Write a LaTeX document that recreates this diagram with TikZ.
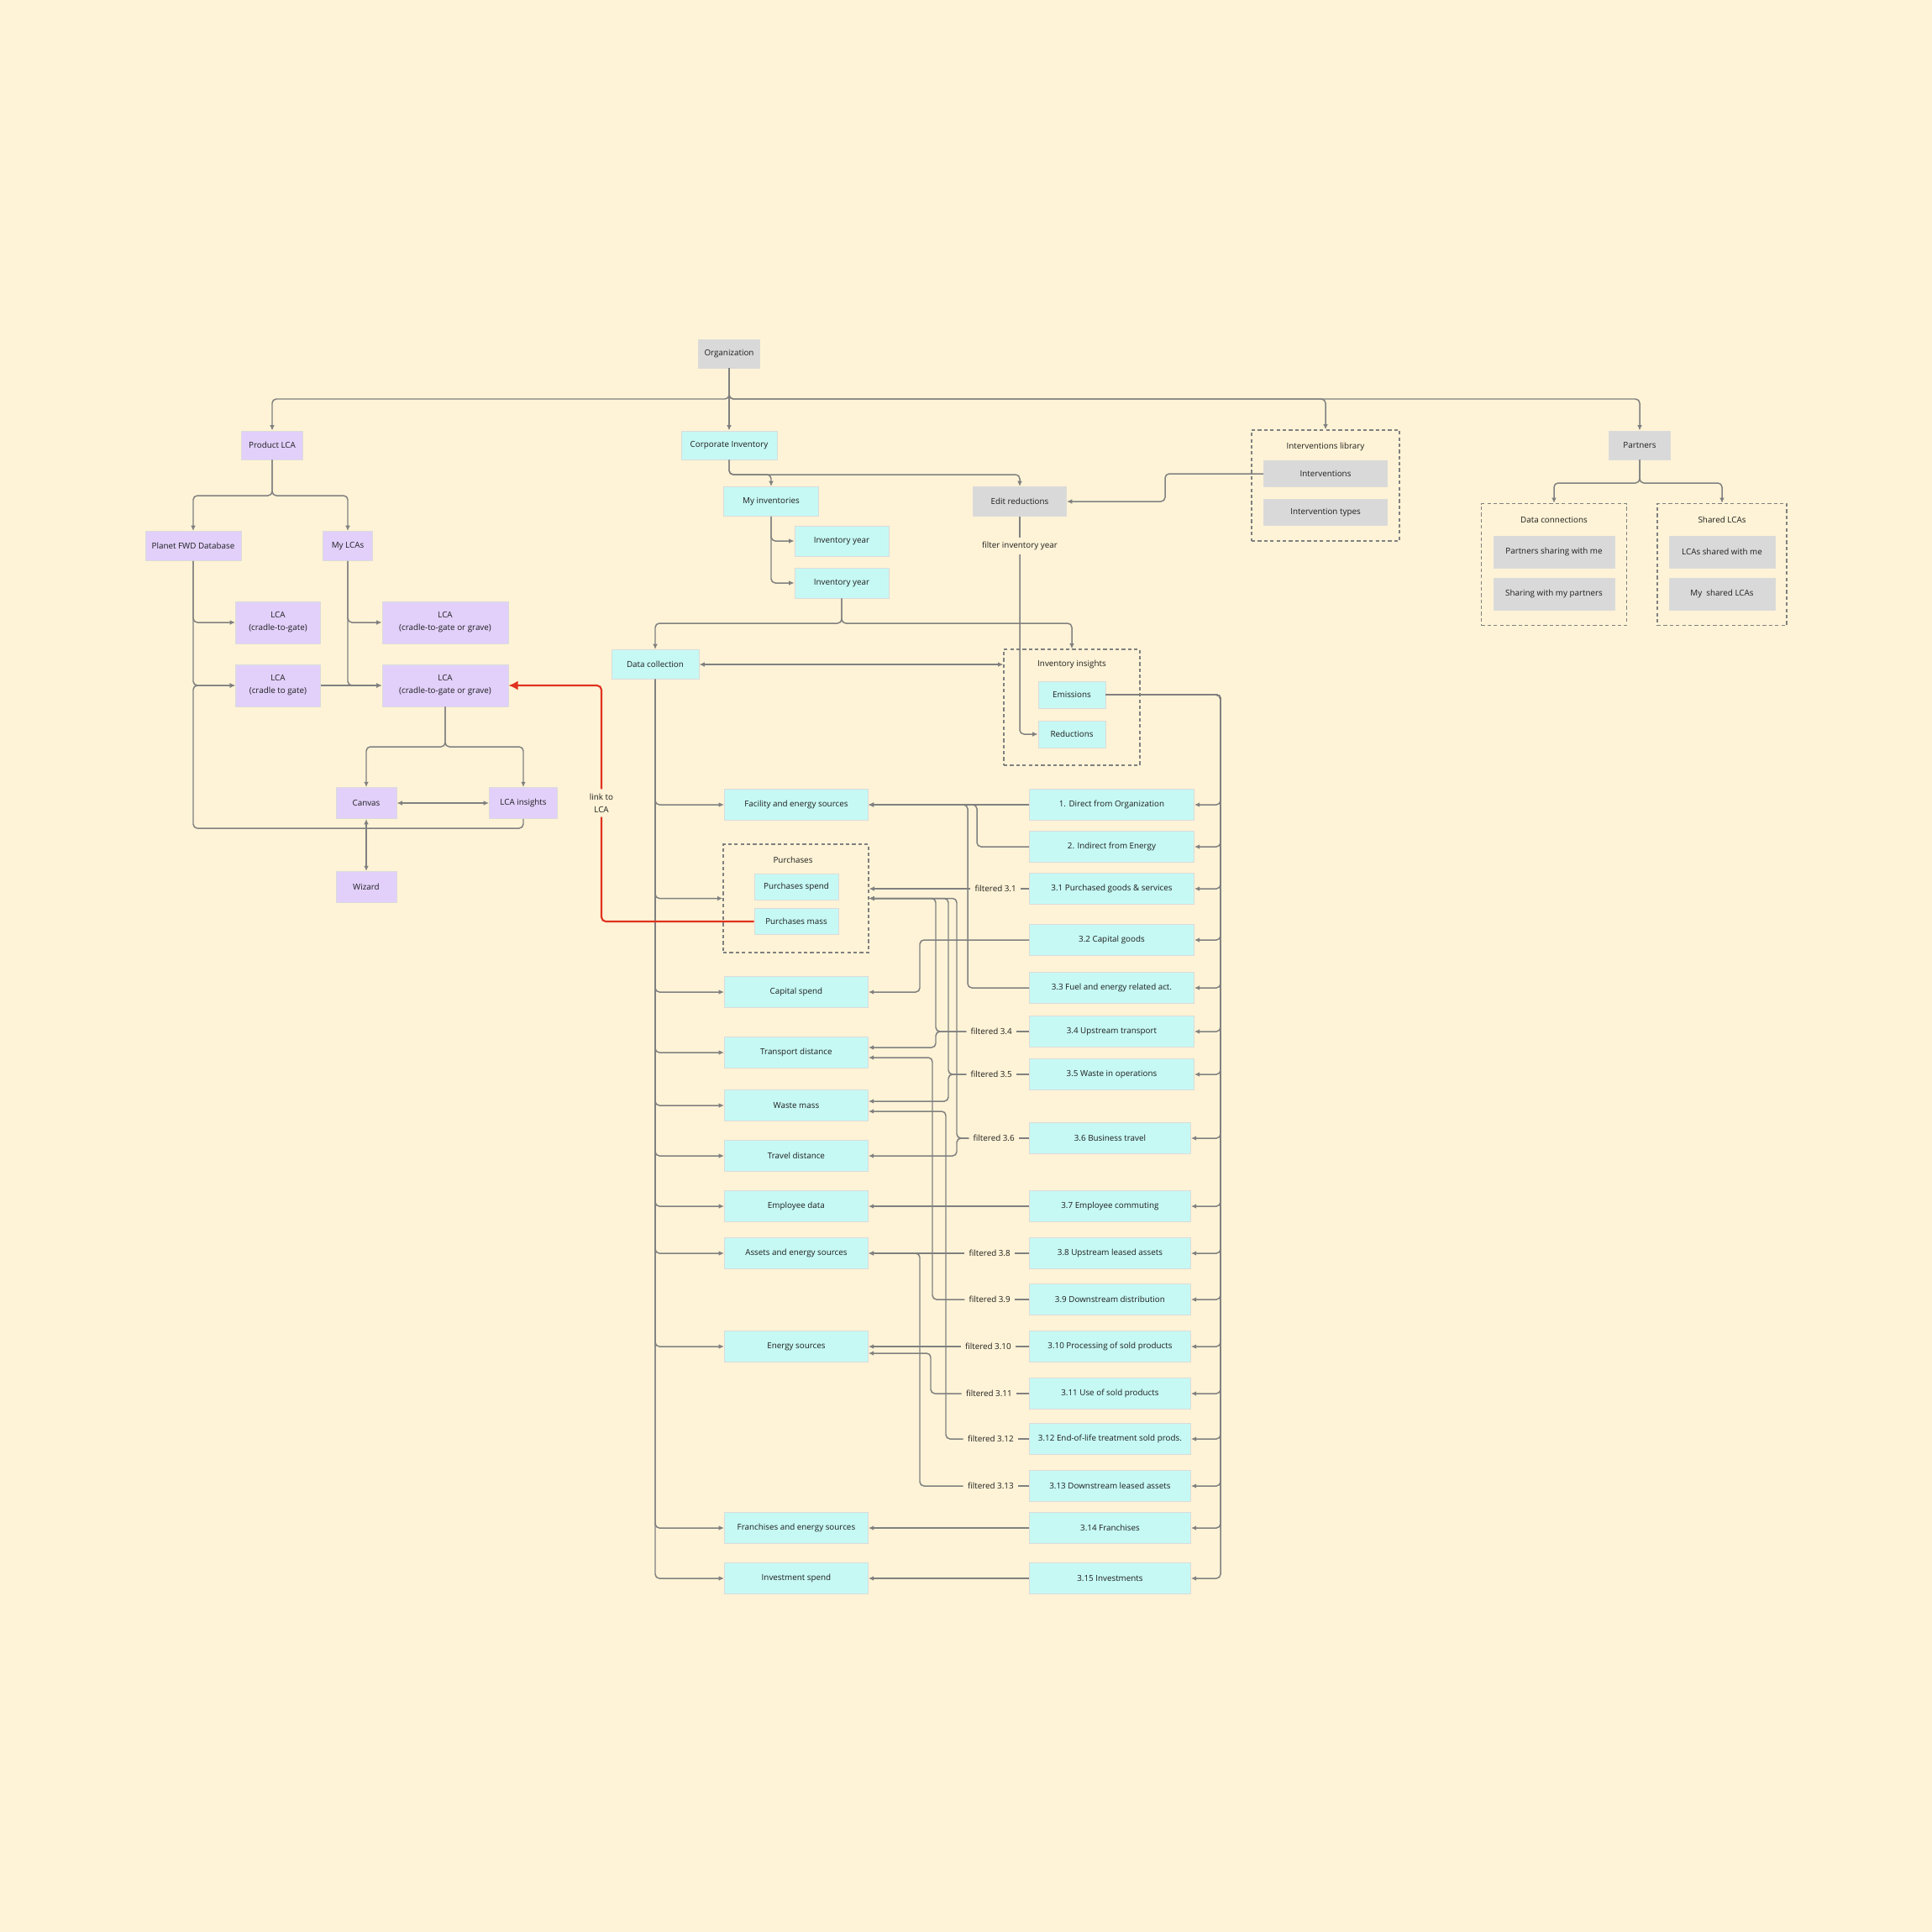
\documentclass[tikz,border=0pt]{standalone}
\usepackage{fontspec}
\setmainfont{Open Sans}
\usepackage{tikz}
\usetikzlibrary{arrows.meta}
\definecolor{paper}{HTML}{FEF3D6}
\definecolor{lilac}{HTML}{E2D0FB}
\definecolor{aqua}{HTML}{C6F9F4}
\definecolor{greybox}{HTML}{D9D9D9}
\definecolor{wiregray}{HTML}{808080}
\definecolor{linkred}{HTML}{E0321F}
\definecolor{ink}{HTML}{1E1E1E}
\newcommand{\boxfont}{\fontsize{2.8}{4.3}\selectfont}
\tikzset{
  box/.style={draw=white!72!gray, line width=0.25pt, align=center, inner sep=0pt,
              minimum height=3.5mm, font=\boxfont, text=ink},
  prod/.style={box, fill=lilac},
  corp/.style={box, fill=aqua},
  grey/.style={box, fill=greybox},
  row/.style={corp, anchor=west, minimum height=3.7mm},
  group/.style={draw=wiregray, line width=0.35pt, dash pattern=on 1.2pt off 0.9pt},
  tag/.style={font=\boxfont, text=ink, inner sep=1.3pt, align=center},
  wire/.style={draw=wiregray, line width=0.42pt, rounded corners=1.4pt},
  arrow/.style={wire, -{Latex[length=1.8pt,width=1.6pt]}},
  twoway/.style={wire, {Latex[length=1.8pt,width=1.6pt]}-{Latex[length=1.8pt,width=1.6pt]}},
  link/.style={draw=linkred, line width=0.6pt, rounded corners=1.5pt},
  linkarrow/.style={link, -{Latex[length=3.2pt,width=3.2pt]}}
}

\begin{document}
\begin{tikzpicture}
  \fill[paper] (0,0) rectangle (23,-23);
  \useasboundingbox (0,0) rectangle (23,-23);

  % groups
  \node[group, minimum width=17.6mm, minimum height=13.2mm] (ilib) at (15.78,-5.78) {};
  \node[group, minimum width=17.3mm, minimum height=14.5mm] (dconn) at (18.50,-6.72) {};
  \node[group, minimum width=15.4mm, minimum height=14.5mm] (slcas) at (20.50,-6.72) {};
  \node[group, minimum width=16.2mm, minimum height=13.8mm] (ins) at (12.76,-8.42) {};
  \node[group, minimum width=17.3mm, minimum height=12.9mm] (purch) at (9.475,-10.695) {};
  \node[tag] (iliblbl) at (15.78,-5.32) {Interventions library};
  \node[tag] (dconnlbl) at (18.50,-6.19) {Data connections};
  \node[tag] (slcaslbl) at (20.50,-6.19) {Shared LCAs};
  \node[tag] (inslbl) at (12.76,-7.91) {Inventory insights};
  \node[tag] (purchlbl) at (9.44,-10.24) {Purchases};

  % top
  \node[grey, minimum width=7.3mm, minimum height=3.4mm] (org) at (8.68,-4.21) {Organization};
  \node[prod, minimum width=7.3mm, minimum height=3.4mm] (prodlca) at (3.24,-5.30) {Product LCA};
  \node[corp, minimum width=11.4mm, minimum height=3.4mm] (corpinv) at (8.68,-5.30) {Corporate Inventory};
  \node[grey, minimum width=7.3mm, minimum height=3.4mm] (partners) at (19.52,-5.30) {Partners};
  \node[grey, minimum width=14.7mm, minimum height=3.1mm] (interv) at (15.78,-5.64) {Interventions};
  \node[grey, minimum width=14.7mm, minimum height=3.1mm] (intervtypes) at (15.78,-6.10) {Intervention types};
  \node[grey, minimum width=14.4mm, minimum height=3.8mm] (psharing) at (18.50,-6.57) {Partners sharing with me};
  \node[grey, minimum width=14.4mm, minimum height=3.8mm] (sharingmy) at (18.50,-7.07) {Sharing with my partners};
  \node[grey, minimum width=12.6mm, minimum height=3.8mm] (lcasme) at (20.50,-6.57) {LCAs shared with me};
  \node[grey, minimum width=12.6mm, minimum height=3.8mm] (myshared) at (20.50,-7.07) {My~ shared LCAs};

  % product LCA
  \node[prod, minimum width=11.4mm] (planet) at (2.30,-6.50) {Planet FWD Database};
  \node[prod, minimum width=5.9mm] (mylcas) at (4.14,-6.50) {My LCAs};
  \node[prod, minimum width=10.1mm, minimum height=5mm] (c2g1) at (3.31,-7.41) {LCA\\(cradle-to-gate)};
  \node[prod, minimum width=15mm, minimum height=5mm] (grave1) at (5.30,-7.41) {LCA\\(cradle-to-gate or grave)};
  \node[prod, minimum width=10.1mm, minimum height=5mm] (c2g2) at (3.31,-8.16) {LCA\\(cradle to gate)};
  \node[prod, minimum width=15mm, minimum height=5mm] (grave2) at (5.30,-8.16) {LCA\\(cradle-to-gate or grave)};
  \node[prod, minimum width=7.2mm, minimum height=3.7mm] (canvas) at (4.36,-9.56) {Canvas};
  \node[prod, minimum width=8.1mm, minimum height=3.7mm] (lcains) at (6.23,-9.56) {LCA insights};
  \node[prod, minimum width=7.2mm, minimum height=3.7mm] (wizard) at (4.36,-10.56) {Wizard};

  % corporate inventory
  \node[corp, minimum width=11.3mm] (myinv) at (9.18,-5.97) {My inventories};
  \node[grey, minimum width=11.1mm] (editred) at (12.14,-5.97) {Edit reductions};
  \node[corp, minimum width=11.2mm, minimum height=3.6mm] (iy1) at (10.02,-6.44) {Inventory year};
  \node[corp, minimum width=11.2mm, minimum height=3.6mm] (iy2) at (10.02,-6.94) {Inventory year};
  \node[corp, minimum width=10.4mm] (datacoll) at (7.80,-7.91) {Data collection};
  \node[corp, minimum width=8mm, minimum height=3.2mm] (emis) at (12.76,-8.27) {Emissions};
  \node[corp, minimum width=8mm, minimum height=3.2mm] (reduc) at (12.76,-8.74) {Reductions};
  \node[tag] (filt) at (12.14,-6.50) {filter inventory year};

  % data collection targets
  \node[row, minimum width=17.1mm] (fac) at (8.62,-9.58) {Facility and energy sources};
  \node[corp, minimum width=10mm, minimum height=3.1mm] (pspend) at (9.48,-10.56) {Purchases spend};
  \node[corp, minimum width=10mm, minimum height=3.1mm] (pmass) at (9.48,-10.97) {Purchases mass};
  \node[row, minimum width=17.1mm] (capital) at (8.62,-11.81) {Capital spend};
  \node[row, minimum width=17.1mm] (trans) at (8.62,-12.53) {Transport distance};
  \node[row, minimum width=17.1mm] (waste) at (8.62,-13.16) {Waste mass};
  \node[row, minimum width=17.1mm] (travel) at (8.62,-13.76) {Travel distance};
  \node[row, minimum width=17.1mm] (empl) at (8.62,-14.36) {Employee data};
  \node[row, minimum width=17.1mm] (assets) at (8.62,-14.92) {Assets and energy sources};
  \node[row, minimum width=17.1mm] (energy) at (8.62,-16.03) {Energy sources};
  \node[row, minimum width=17.1mm] (fran) at (8.62,-18.19) {Franchises and energy sources};
  \node[row, minimum width=17.1mm] (invest) at (8.62,-18.79) {Investment spend};

  % scopes and categories
  \node[row, minimum width=19.6mm] (r1) at (12.25,-9.58) {1. Direct from Organization};
  \node[row, minimum width=19.6mm] (r2) at (12.25,-10.08) {2. Indirect from Energy};
  \node[row, minimum width=19.6mm] (r31) at (12.25,-10.58) {3.1 Purchased goods \& services};
  \node[row, minimum width=19.6mm] (r32) at (12.25,-11.19) {3.2 Capital goods};
  \node[row, minimum width=19.6mm] (r33) at (12.25,-11.76) {3.3 Fuel and energy related act.};
  \node[row, minimum width=19.6mm] (r34) at (12.25,-12.28) {3.4 Upstream transport};
  \node[row, minimum width=19.6mm] (r35) at (12.25,-12.79) {3.5 Waste in operations};
  \node[row, minimum width=19.2mm] (r36) at (12.25,-13.55) {3.6 Business travel};
  \node[row, minimum width=19.2mm] (r37) at (12.25,-14.36) {3.7 Employee commuting};
  \node[row, minimum width=19.2mm] (r38) at (12.25,-14.92) {3.8 Upstream leased assets};
  \node[row, minimum width=19.2mm] (r39) at (12.25,-15.47) {3.9 Downstream distribution};
  \node[row, minimum width=19.2mm] (r310) at (12.25,-16.03) {3.10 Processing of sold products};
  \node[row, minimum width=19.2mm] (r311) at (12.25,-16.59) {3.11 Use of sold products};
  \node[row, minimum width=19.2mm] (r312) at (12.25,-17.13) {3.12 End-of-life treatment sold prods.};
  \node[row, minimum width=19.2mm] (r313) at (12.25,-17.69) {3.13 Downstream leased assets};
  \node[row, minimum width=19.2mm] (r314) at (12.25,-18.19) {3.14 Franchises};
  \node[row, minimum width=19.2mm] (r315) at (12.25,-18.79) {3.15 Investments};

  \node[tag, anchor=east] (f31) at (12.15,-10.58) {filtered 3.1};
  \node[tag, anchor=east] (f34) at (12.10,-12.28) {filtered 3.4};
  \node[tag, anchor=east] (f35) at (12.10,-12.79) {filtered 3.5};
  \node[tag, anchor=east] (f36) at (12.13,-13.55) {filtered 3.6};
  \node[tag, anchor=east] (f38) at (12.08,-14.92) {filtered 3.8};
  \node[tag, anchor=east] (f39) at (12.08,-15.47) {filtered 3.9};
  \node[tag, anchor=east] (f310) at (12.09,-16.03) {filtered 3.10};
  \node[tag, anchor=east] (f311) at (12.10,-16.59) {filtered 3.11};
  \node[tag, anchor=east] (f312) at (12.12,-17.13) {filtered 3.12};
  \node[tag, anchor=east] (f313) at (12.12,-17.69) {filtered 3.13};
  \node[tag] (linklbl) at (7.16,-9.56) {link to\\LCA};

  % organization
  \draw[arrow] (org.south) -- (corpinv.north);
  \draw[arrow] (org.south) -- (8.68,-4.75) -| (prodlca.north);
  \draw[arrow] (org.south) -- (8.68,-4.75) -| (ilib.north);
  \draw[arrow] (org.south) -- (8.68,-4.75) -| (partners.north);
  \draw[arrow] (partners.south) -- (19.52,-5.75) -| (dconn.north);
  \draw[arrow] (partners.south) -- (19.52,-5.75) -| (slcas.north);

  % product LCA
  \draw[arrow] (prodlca.south) -- (3.24,-5.90) -| (planet.north);
  \draw[arrow] (prodlca.south) -- (3.24,-5.90) -| (mylcas.north);
  \draw[arrow] (planet.south) |- (c2g1.west);
  \draw[arrow] (planet.south) |- (c2g2.west);
  \draw[arrow] (mylcas.south) |- (grave1.west);
  \draw[arrow] (mylcas.south) |- (grave2.west);
  \draw[arrow] (c2g2.east) -- (grave2.west);
  \draw[arrow] (grave2.south) -- (5.30,-8.89) -| (canvas.north);
  \draw[arrow] (grave2.south) -- (5.30,-8.89) -| (lcains.north);
  \draw[twoway] (canvas.east) -- (lcains.west);
  \draw[twoway] (canvas.south) -- (wizard.north);
  \draw[arrow] (lcains.south) |- (2.30,-9.86) |- (c2g2.west);

  % corporate inventory
  \draw[arrow] (corpinv.south) -- (8.68,-5.65) -| (myinv.north);
  \draw[arrow] (corpinv.south) -- (8.68,-5.65) -| (editred.north);
  \draw[arrow] (interv.west) -- (13.87,-5.64) |- (editred.east);
  \draw[arrow] (myinv.south) |- (iy1.west);
  \draw[arrow] (myinv.south) |- (iy2.west);
  \draw[arrow] (iy2.south) -- (10.02,-7.42) -| (datacoll.north);
  \draw[arrow] (iy2.south) -- (10.02,-7.42) -| (ins.north);
  \draw[twoway] (datacoll.east) -- (ins.west |- datacoll.east);
  \draw[wire] (editred.south) -- (filt.north);
  \draw[arrow] (filt.south) |- (reduc.west);

  \foreach \t in {fac,purch,capital,trans,waste,travel,empl,assets,energy,fran,invest}
    \draw[arrow] (datacoll.south) |- (\t.west);
  \foreach \r in {r1,r2,r31,r32,r33,r34,r35,r36,r37,r38,r39,r310,r311,r312,r313,r314,r315}
    \draw[arrow] (emis.east) -- (14.53,-8.27) |- (\r.east);

  % categories to data
  \draw[arrow] (r1.west) -- (fac.east);
  \draw[arrow] (r2.west) -- (11.63,-10.08) |- (fac.east);
  \draw[arrow] (r33.west) -- (11.52,-11.76) |- (fac.east);
  \draw[wire] (r31.west) -- (f31.east);
  \draw[arrow] (f31.west) -- (purch.east |- f31.west);
  \draw[arrow] (r32.west) -| (10.95,-11.81) -- (capital.east);
  \draw[wire] (r34.west) -- (f34.east);
  \draw[arrow] (f34.west) -| (11.14,-10.695) -- (purch.east);
  \draw[arrow] (f34.west) -| (11.14,-12.47) -- ([yshift=0.6mm]trans.east);
  \draw[wire] (r35.west) -- (f35.east);
  \draw[arrow] (f35.west) -| (11.29,-10.695) -- (purch.east);
  \draw[arrow] (f35.west) -| (11.29,-13.11) -- ([yshift=0.5mm]waste.east);
  \draw[wire] (r36.west) -- (f36.east);
  \draw[arrow] (f36.west) -| (11.39,-10.695) -- (purch.east);
  \draw[arrow] (f36.west) -| (11.39,-13.76) -- (travel.east);
  \draw[arrow] (r37.west) -- (empl.east);
  \draw[wire] (r38.west) -- (f38.east);
  \draw[arrow] (f38.west) -- (assets.east);
  \draw[wire] (r39.west) -- (f39.east);
  \draw[arrow] (f39.west) -| (11.10,-12.59) -- ([yshift=-0.6mm]trans.east);
  \draw[wire] (r310.west) -- (f310.east);
  \draw[arrow] (f310.west) -- (energy.east);
  \draw[wire] (r311.west) -- (f311.east);
  \draw[arrow] (f311.west) -| (11.08,-16.11) -- ([yshift=-0.8mm]energy.east);
  \draw[wire] (r312.west) -- (f312.east);
  \draw[arrow] (f312.west) -| (11.26,-13.23) -- ([yshift=-0.7mm]waste.east);
  \draw[wire] (r313.west) -- (f313.east);
  \draw[arrow] (f313.west) -| (10.95,-14.92) -- (assets.east);
  \draw[arrow] (r314.west) -- (fran.east);
  \draw[arrow] (r315.west) -- (invest.east);

  % link back to product LCA
  \draw[link] (pmass.west) -| (linklbl.south);
  \draw[linkarrow] (linklbl.north) |- (grave2.east);
\end{tikzpicture}
\end{document}
